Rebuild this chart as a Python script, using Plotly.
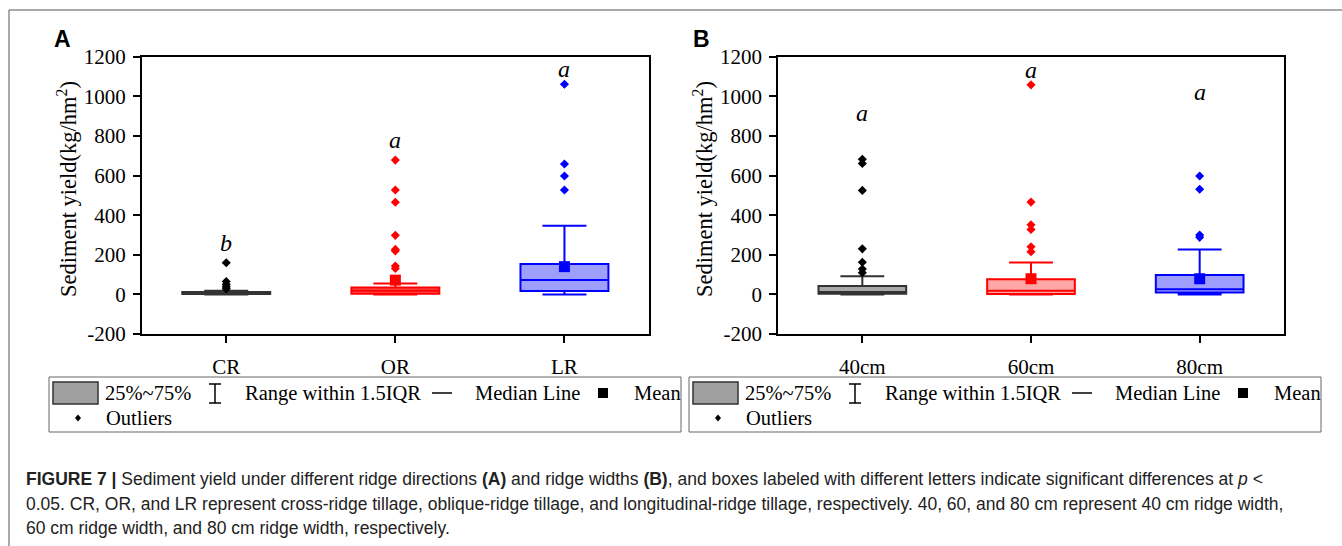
import plotly.graph_objects as go

W, H = 1342, 546

# ---------------- data ----------------
cats_A = ["CR", "OR", "LR"]
q1_A = [2, 3, 17]
median_A = [5, 18, 73]
q3_A = [12, 35, 153]
lower_A = [0, 0, 0]
upper_A = [18, 55, 347]
mean_A = [None, 72, 140]
outliers_CR = [160, 65, 50, 38, 28]
outliers_OR = [678, 527, 465, 298, 227, 219, 143, 131]
outliers_LR = [1061, 658, 598, 527]
letters_A = ["b", "a", "a"]
letter_y_A = [261, 779, 1136]

cats_B = ["40cm", "60cm", "80cm"]
q1_B = [3, 2, 9]
median_B = [12, 18, 26]
q3_B = [42, 76, 98]
lower_B = [0, 0, 0]
upper_B = [91, 161, 226]
mean_B = [None, 79, 79]
outliers_40 = [682, 661, 525, 230, 162, 128, 109]
outliers_60 = [1058, 466, 351, 328, 240, 215]
outliers_80 = [598, 531, 300, 288]
letters_B = ["a", "a", "a"]
letter_y_B = [917, 1133, 1024]

y_ticks = [-200, 0, 200, 400, 600, 800, 1000, 1200]
y_tick_labels = ["-200", "0", "200", "400", "600", "800", "1000", "1200"]

line_colors = ["#333333", "#FF0000", "#0000FF"]
fill_colors_A = ["rgba(110,110,110,0.65)", "rgba(255,0,0,0.7)", "rgba(0,0,255,0.38)"]
fill_colors_B = ["rgba(110,110,110,0.6)", "rgba(255,0,0,0.35)", "rgba(0,0,255,0.38)"]
point_colors = ["#000000", "#FF0000", "#0000FF"]

SERIF = "Liberation Serif, Times New Roman, serif"
SANS = "Liberation Sans, Arial, sans-serif"


def px(x):
    return x / W


def py(y):
    return 1 - y / H


fig = go.Figure()


def add_panel(xa, ya, cats, q1, med, q3, lo, hi, means, outs, letters, letter_y, fills):
    for i, c in enumerate(cats):
        fig.add_trace(go.Box(
            x=[c], q1=[q1[i]], median=[med[i]], q3=[q3[i]],
            lowerfence=[lo[i]], upperfence=[hi[i]],
            boxpoints=False, width=0.52, whiskerwidth=0.5,
            fillcolor=fills[i], line=dict(color=line_colors[i], width=2),
            xaxis=xa, yaxis=ya, showlegend=False, hoverinfo="skip"))
        fig.add_trace(go.Scatter(
            x=[c] * len(outs[i]), y=outs[i], mode="markers",
            marker=dict(symbol="diamond", size=7, color=point_colors[i], line=dict(width=0)),
            xaxis=xa, yaxis=ya, showlegend=False, hoverinfo="skip"))
        if means[i] is not None:
            fig.add_trace(go.Scatter(
                x=[c], y=[means[i]], mode="markers",
                marker=dict(symbol="square", size=11, color=point_colors[i], line=dict(width=0)),
                xaxis=xa, yaxis=ya, showlegend=False, hoverinfo="skip"))
        fig.add_annotation(x=i, y=letter_y[i], xref=xa, yref=ya,
                           text="<i>%s</i>" % letters[i], showarrow=False,
                           xanchor="center", yanchor="middle",
                           font=dict(family=SERIF, size=24, color="#000"))


add_panel("x", "y", cats_A, q1_A, median_A, q3_A, lower_A, upper_A, mean_A,
          [outliers_CR, outliers_OR, outliers_LR], letters_A, letter_y_A, fill_colors_A)
add_panel("x2", "y2", cats_B, q1_B, median_B, q3_B, lower_B, upper_B, mean_B,
          [outliers_40, outliers_60, outliers_80], letters_B, letter_y_B, fill_colors_B)

axis_common = dict(showline=True, linecolor="#000", linewidth=1.5, mirror=True,
                   ticks="outside", tickcolor="#000", tickwidth=1.5, ticklen=7,
                   showgrid=False, zeroline=False, automargin=False,
                   tickfont=dict(family=SERIF, size=21, color="#000"))

ydom = [py(334), py(56.7)]
fig.update_layout(
    template="none",
    width=W, height=H, margin=dict(l=0, r=0, t=0, b=0, pad=0, autoexpand=False),
    paper_bgcolor="white", plot_bgcolor="white", boxmode="overlay", showlegend=False,
    xaxis=dict(domain=[px(141.7), px(649)], range=[-0.5, 2.5], type="category",
               categoryorder="array", categoryarray=cats_A, ticklabelstandoff=6, **axis_common),
    yaxis=dict(domain=ydom, range=[-200, 1200], tickvals=y_ticks, ticktext=y_tick_labels,
               ticklabelstandoff=3, **axis_common),
    xaxis2=dict(domain=[px(778), px(1284)], range=[-0.5, 2.5], type="category",
                categoryorder="array", categoryarray=cats_B, anchor="y2",
                ticklabelstandoff=6, **axis_common),
    yaxis2=dict(domain=ydom, range=[-200, 1200], tickvals=y_ticks, ticktext=y_tick_labels,
                anchor="x2", ticklabelstandoff=3, **axis_common),
)

shapes = []
annotations = []

# outer frame
shapes.append(dict(type="path", xref="paper", yref="paper",
                   path="M %f %f L %f %f L %f %f" % (px(9), py(546), px(9), py(10), px(1342), py(10)),
                   line=dict(color="#555", width=1)))

# panel letters and y titles
for lx, label, tx in [(62, "A", 67), (702, "B", 703)]:
    annotations.append(dict(x=px(lx), y=py(39.5), xref="paper", yref="paper", text="<b>%s</b>" % label,
                            showarrow=False, xanchor="center", yanchor="middle",
                            font=dict(family=SANS, size=23, color="#000")))
    annotations.append(dict(x=px(tx), y=py(189), xref="paper", yref="paper",
                            text="Sediment yield(kg/hm<sup>2</sup>)", textangle=-90, showarrow=False,
                            xanchor="center", yanchor="middle",
                            font=dict(family=SERIF, size=22.5, color="#000")))

# legends
for x0 in [49, 689]:
    def X(o):
        return px(x0 + o)
    shapes.append(dict(type="rect", xref="paper", yref="paper", x0=X(0), x1=X(632), y0=py(432), y1=py(377),
                       line=dict(color="#666", width=1)))
    shapes.append(dict(type="rect", xref="paper", yref="paper", x0=X(4), x1=X(49), y0=py(404), y1=py(382),
                       fillcolor="#A0A0A0", line=dict(color="#333", width=1.5)))
    # range symbol
    shapes.append(dict(type="line", xref="paper", yref="paper", x0=X(166), x1=X(166), y0=py(384), y1=py(403),
                       line=dict(color="#000", width=1.5)))
    for yy in (384, 403):
        shapes.append(dict(type="line", xref="paper", yref="paper", x0=X(160), x1=X(172), y0=py(yy), y1=py(yy),
                           line=dict(color="#000", width=1.5)))
    # median line
    shapes.append(dict(type="line", xref="paper", yref="paper", x0=X(383), x1=X(403), y0=py(393), y1=py(393),
                       line=dict(color="#000", width=1.5)))
    # mean square
    shapes.append(dict(type="rect", xref="paper", yref="paper", x0=X(549), x1=X(559), y0=py(398), y1=py(388),
                       fillcolor="#000", line=dict(color="#000", width=0)))
    # outlier diamond
    cx, cy = x0 + 29, 418
    shapes.append(dict(type="path", xref="paper", yref="paper",
                       path="M %f %f L %f %f L %f %f L %f %f Z" % (px(cx), py(cy - 3.5), px(cx + 3), py(cy),
                                                                  px(cx), py(cy + 3.5), px(cx - 3), py(cy)),
                       fillcolor="#000", line=dict(color="#000", width=0)))
    for off, txt, yy in [(54, "25%~75%", 393), (194, "Range within 1.5IQR", 393), (424, "Median Line", 393),
                         (583, "Mean", 393), (55, "Outliers", 418)]:
        annotations.append(dict(x=X(off), y=py(yy), xref="paper", yref="paper", text=txt, showarrow=False,
                                xanchor="left", yanchor="middle",
                                font=dict(family=SERIF, size=20.5, color="#000")))

# caption
cap_lines = [
    "<b>FIGURE 7 |</b> Sediment yield under different ridge directions <b>(A)</b> and ridge widths <b>(B)</b>, "
    "and boxes labeled with different letters indicate significant differences at <i>p</i> &lt;",
    "0.05. CR, OR, and LR represent cross-ridge tillage, oblique-ridge tillage, and longitudinal-ridge tillage, "
    "respectively. 40, 60, and 80 cm represent 40 cm ridge width,",
    "60 cm ridge width, and 80 cm ridge width, respectively.",
]
for yy, txt in zip([479, 504, 528], cap_lines):
    annotations.append(dict(x=px(24), y=py(yy), xref="paper", yref="paper", text=txt, showarrow=False,
                            xanchor="left", yanchor="middle",
                            font=dict(family=SANS, size=17.5, color="#222")))

fig.update_layout(shapes=shapes, annotations=list(fig.layout.annotations) + annotations)
fig.write_html("out.html")
